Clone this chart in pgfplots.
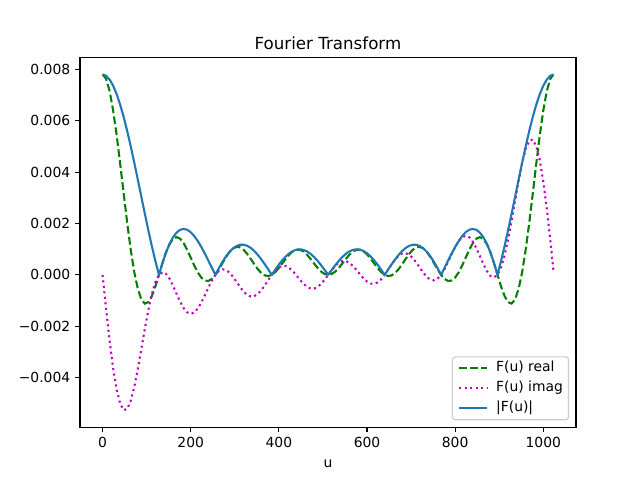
\documentclass[border=0pt]{standalone}
\usepackage{fontspec}
\setmainfont{DejaVu Sans}
\usepackage{pgfplots}
\usepackage{pgfplotstable}
\pgfplotsset{compat=1.18}

\definecolor{mplgreen}{RGB}{0,128,0}
\definecolor{mplmag}{RGB}{191,0,191}
\definecolor{mplblue}{RGB}{31,119,180}

% DFT of an 8-sample box, N = 1024 (sampled every 8 bins)
\pgfplotstableread{
u re im ab
0 0.0078125 0 0.0078125
8 0.0076489 -0.0013272 0.0077633
16 0.0071711 -0.0025658 0.0076162
24 0.0064170 -0.0036352 0.0073750
32 0.0054459 -0.0044693 0.0070450
40 0.0043326 -0.0050228 0.0066333
48 0.0031611 -0.0052741 0.0061489
56 0.0020163 -0.0052270 0.0056023
64 0.00097656 -0.0049095 0.0050057
72 0.00010732 -0.0043702 0.0043715
80 -0.00054482 -0.0036730 0.0037132
88 -0.00095498 -0.0028908 0.0030444
96 -0.0011214 -0.0020979 0.0023788
104 -0.0010642 -0.0013635 0.0017296
112 -0.00082197 -0.00074496 0.0011093
120 -0.00044727 -0.00028321 0.0005294
128 0 0 0
136 0.00045869 0.00010301 0.00047012
144 0.00087305 0.00004289 0.00087412
152 0.0011977 -0.00014771 0.0012067
160 0.0014018 -0.00042522 0.0014648
168 0.0014715 -0.00074067 0.0016474
176 0.0014096 -0.0010454 0.0017550
184 0.0012345 -0.0012966 0.0017902
192 0.00097656 -0.0014615 0.0017578
200 0.00067412 -0.0015207 0.0016634
208 0.00036797 -0.0014692 0.0015146
216 0.00009707 -0.0013162 0.0013198
224 -0.00010674 -0.0010833 0.0010885
232 -0.00022158 -0.00080055 0.00083066
240 -0.00023789 -0.00050306 0.00055645
248 -0.00015908 -0.00022590 0.00027627
256 0 0 0
264 0.00021504 0.00015148 0.00026309
272 0.00045596 0.00021564 0.00050439
280 0.00069053 0.00019110 0.00071650
288 0.00088896 0.00008756 0.00089326
296 0.0010271 -0.00007577 0.0010300
304 0.0010896 -0.00027293 0.0011232
312 0.0010710 -0.00047474 0.0011715
320 0.00097656 -0.00065252 0.0011745
328 0.00082109 -0.00078172 0.0011337
336 0.00062656 -0.00084487 0.0010519
344 0.00041963 -0.00083357 0.00093320
352 0.00022725 -0.00074928 0.00078301
360 0.00007432 -0.00060283 0.00060742
368 -0.00002031 -0.00041291 0.00041338
376 -0.00004570 -0.00020333 0.00020840
384 0 0 0
392 0.00010928 0.00017252 0.00020420
400 0.00026650 0.00029409 0.00039688
408 0.00045049 0.00035153 0.00057139
416 0.00063643 0.00034017 0.00072158
424 0.00080000 0.00026428 0.00084248
432 0.00092002 0.00013647 0.00093008
440 0.00098135 -0.00002409 0.00098164
448 0.00097656 -0.00019425 0.00099570
456 0.00090693 -0.00034985 0.00097207
464 0.00078232 -0.00046892 0.00091211
472 0.00061953 -0.00053438 0.00081816
480 0.00044023 -0.00053638 0.00069385
488 0.00026816 -0.00047335 0.00054404
496 0.00012607 -0.00035229 0.00037412
504 0.00003262 -0.00018777 0.00019053
512 0 0 0
520 0.00003262 0.00018777 0.00019053
528 0.00012607 0.00035229 0.00037412
536 0.00026816 0.00047335 0.00054404
544 0.00044023 0.00053638 0.00069385
552 0.00061953 0.00053438 0.00081816
560 0.00078232 0.00046892 0.00091211
568 0.00090693 0.00034985 0.00097207
576 0.00097656 0.00019425 0.00099570
584 0.00098135 0.00002409 0.00098164
592 0.00092002 -0.00013647 0.00093008
600 0.00080000 -0.00026428 0.00084248
608 0.00063643 -0.00034017 0.00072158
616 0.00045049 -0.00035153 0.00057139
624 0.00026650 -0.00029409 0.00039688
632 0.00010928 -0.00017252 0.00020420
640 0 0 0
648 -0.00004570 0.00020333 0.00020840
656 -0.00002031 0.00041291 0.00041338
664 0.00007432 0.00060283 0.00060742
672 0.00022725 0.00074928 0.00078301
680 0.00041963 0.00083357 0.00093320
688 0.00062656 0.00084487 0.0010519
696 0.00082109 0.00078172 0.0011337
704 0.00097656 0.00065252 0.0011745
712 0.0010710 0.00047474 0.0011715
720 0.0010896 0.00027293 0.0011232
728 0.0010271 0.00007577 0.0010300
736 0.00088896 -0.00008756 0.00089326
744 0.00069053 -0.00019110 0.00071650
752 0.00045596 -0.00021564 0.00050439
760 0.00021504 -0.00015148 0.00026309
768 0 0 0
776 -0.00015908 0.00022590 0.00027627
784 -0.00023789 0.00050306 0.00055645
792 -0.00022158 0.00080055 0.00083066
800 -0.00010674 0.0010833 0.0010885
808 0.00009707 0.0013162 0.0013198
816 0.00036797 0.0014692 0.0015146
824 0.00067412 0.0015207 0.0016634
832 0.00097656 0.0014615 0.0017578
840 0.0012345 0.0012966 0.0017902
848 0.0014096 0.0010454 0.0017550
856 0.0014715 0.00074067 0.0016474
864 0.0014018 0.00042522 0.0014648
872 0.0011977 0.00014771 0.0012067
880 0.00087305 -0.00004289 0.00087412
888 0.00045869 -0.00010301 0.00047012
896 0 0 0
904 -0.00044727 0.00028321 0.0005294
912 -0.00082197 0.00074496 0.0011093
920 -0.0010642 0.0013635 0.0017296
928 -0.0011214 0.0020979 0.0023788
936 -0.00095498 0.0028908 0.0030444
944 -0.00054482 0.0036730 0.0037132
952 0.00010732 0.0043702 0.0043715
960 0.00097656 0.0049095 0.0050057
968 0.0020163 0.0052270 0.0056023
976 0.0031611 0.0052741 0.0061489
984 0.0043326 0.0050228 0.0066333
992 0.0054459 0.0044693 0.0070450
1000 0.0064170 0.0036352 0.0073750
1008 0.0071711 0.0025658 0.0076162
1016 0.0076489 0.0013272 0.0077633
1023 0.0078099 0.00016778 0.0078115
}\ft

\begin{document}
\begin{tikzpicture}
% page = 640x480 px at 0.72pt/px, axes box as in matplotlib defaults
\path[use as bounding box] (-57.6pt,-38.016pt) rectangle (403.2pt,307.584pt);
\begin{axis}[
    at={(0,0)}, anchor=south west,
    scale only axis,
    width=357.12pt, height=266.112pt,
    xmin=-51.15, xmax=1074.15,
    ymin=-0.00594, ymax=0.00847,
    xtick={0,200,400,600,800,1000},
    ytick={-0.004,-0.002,0,0.002,0.004,0.006,0.008},
    yticklabels={−0.004,−0.002,0.000,0.002,0.004,0.006,0.008},
    scaled y ticks=false,
    /pgf/number format/1000 sep={},
    xtick pos=bottom, ytick pos=left,
    tick align=outside,
    major tick length=3.5pt,
    tick style={line width=0.8pt, black},
    axis line style={line width=0.8pt},
    /pgf/number format/assume math mode=true,
    ticklabel style={font=\fontsize{10}{12}\selectfont},
    title={Fourier Transform},
    title style={font=\fontsize{12}{14}\selectfont, yshift=-4pt},
    xlabel={u},
    xlabel style={font=\fontsize{10}{12}\selectfont, yshift=-2pt},
    legend cell align=left,
    legend image code/.code={\draw[#1] (0pt,0pt) -- (20pt,0pt);},
    legend style={
        at={(1,0)}, anchor=south east, xshift=-5pt, yshift=5pt,
        draw=black!20, line width=0.8pt, rounded corners=2pt,
        fill=white, fill opacity=0.8, text opacity=1,
        inner xsep=4pt, inner ysep=3.5pt, column sep=6pt, row sep=5pt,
        font=\fontsize{10}{12}\selectfont,
        nodes={inner sep=0pt, text height=7.2pt, text depth=2.2pt},
    },
]
\addplot[mplgreen, line width=1.5pt, dash pattern=on 5.55pt off 2.4pt] table[x=u, y=re] {\ft};
\addplot[mplmag, line width=1.5pt, dash pattern=on 1.5pt off 2.475pt] table[x=u, y=im] {\ft};
\addplot[mplblue, line width=1.5pt, line join=round] table[x=u, y=ab] {\ft};
\legend{F(u) real, F(u) imag, |F(u)|}
\end{axis}
\end{tikzpicture}
\end{document}
